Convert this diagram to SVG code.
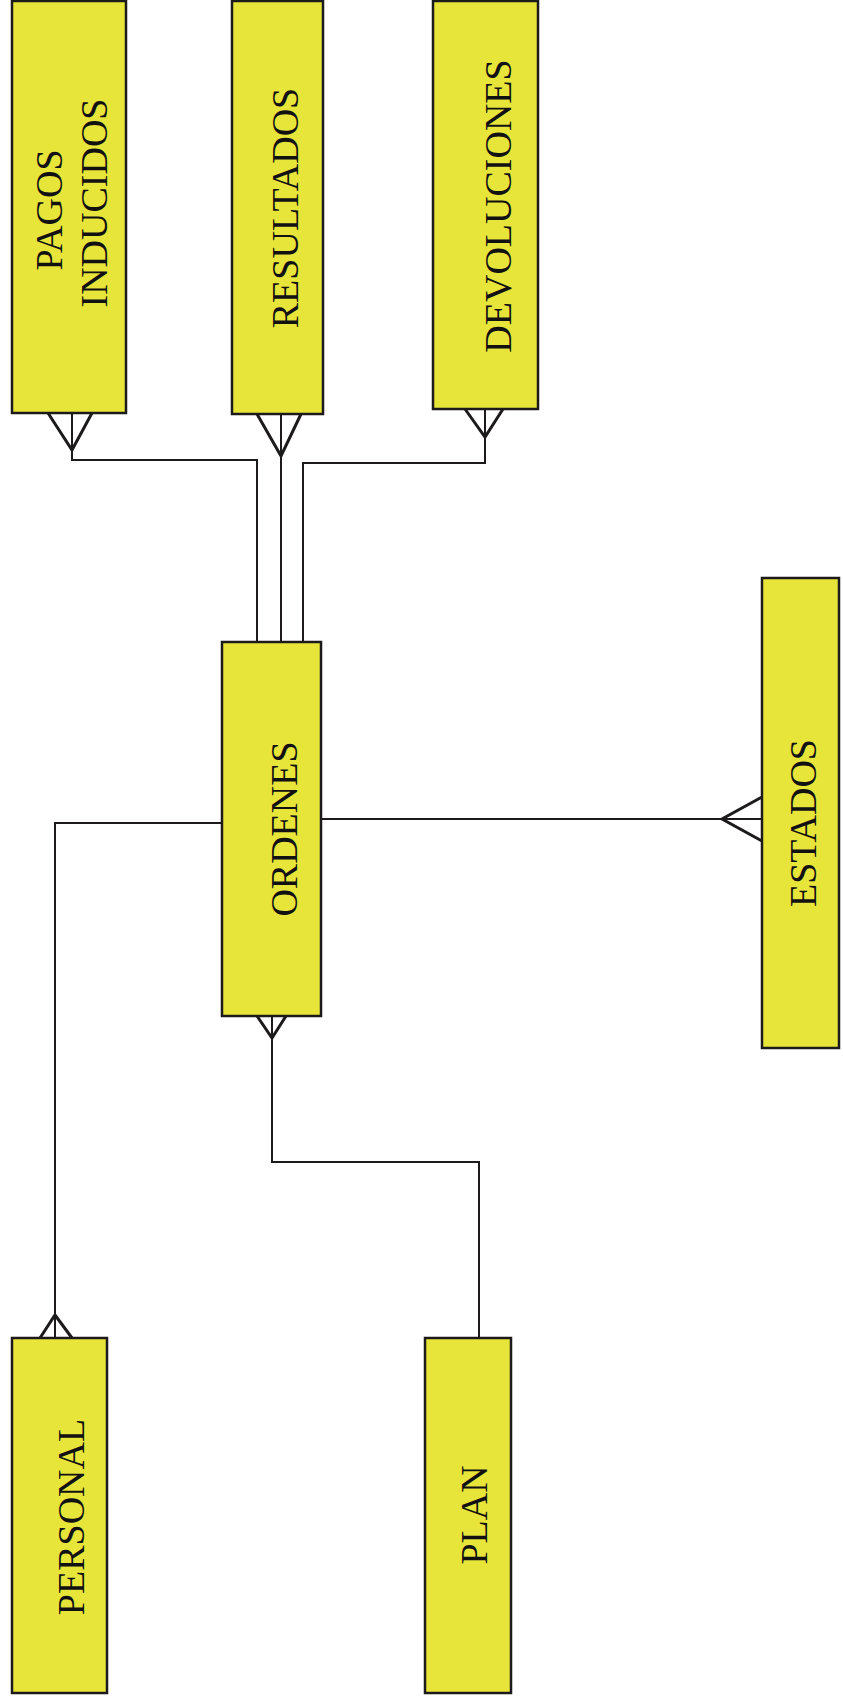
<svg xmlns="http://www.w3.org/2000/svg" width="843" height="1704" viewBox="0 0 843 1704">
  <style>
    .entity rect { fill: #e8e53a; stroke: #1c1a1a; stroke-width: 2.5; }
    .entity text { font-family: "Liberation Serif", "Times New Roman", serif; font-size: 38px; fill: #111; text-anchor: middle; }
    .link { fill: none; stroke: #1c1a1a; stroke-width: 2; }
    .crow { fill: none; stroke: #1c1a1a; stroke-width: 3; stroke-linejoin: miter; }
  </style>
  <rect width="843" height="1704" fill="#ffffff"/>

  <!-- relationships -->
  <g id="connectors">
    <!-- PAGOS INDUCIDOS - ORDENES -->
    <path class="crow" d="M48,413 L72,450 L92,413"/>
    <path class="link" d="M72,413 V460 H257 V642"/>
    <!-- RESULTADOS - ORDENES -->
    <path class="crow" d="M257,414 L281,456 L301,414"/>
    <path class="link" d="M281,414 V642"/>
    <!-- DEVOLUCIONES - ORDENES -->
    <path class="crow" d="M465,409 L485,437 L503,409"/>
    <path class="link" d="M485,409 V463 H303 V642"/>
    <!-- ORDENES - ESTADOS -->
    <path class="link" d="M322,819 H762"/>
    <path class="crow" d="M762,797 L722,819 L762,841"/>
    <!-- PLAN - ORDENES -->
    <path class="crow" d="M257,1016 L272,1038 L286,1016"/>
    <path class="link" d="M272,1016 V1162 H479 V1338"/>
    <!-- ORDENES - PERSONAL -->
    <path class="link" d="M222,823 H55 V1338"/>
    <path class="crow" d="M40,1338 L55,1315 L72,1338"/>
  </g>

  <g id="pagos-inducidos" class="entity">
    <rect x="12" y="1" width="114" height="412"/>
    <text transform="translate(62,210) rotate(-90)">PAGOS</text>
    <text transform="translate(107,203) rotate(-90)">INDUCIDOS</text>
  </g>

  <g id="resultados" class="entity">
    <rect x="232" y="1" width="91" height="413"/>
    <text transform="translate(298,208) rotate(-90)">RESULTADOS</text>
  </g>

  <g id="devoluciones" class="entity">
    <rect x="433" y="1" width="105" height="408"/>
    <text transform="translate(511,206) rotate(-90)">DEVOLUCIONES</text>
  </g>

  <g id="ordenes" class="entity">
    <rect x="222" y="642" width="99" height="374"/>
    <text transform="translate(297,829) rotate(-90)">ORDENES</text>
  </g>

  <g id="estados" class="entity">
    <rect x="762" y="578" width="77" height="470"/>
    <text transform="translate(816,823) rotate(-90)">ESTADOS</text>
  </g>

  <g id="personal" class="entity">
    <rect x="12" y="1338" width="95" height="355"/>
    <text transform="translate(84,1517) rotate(-90)">PERSONAL</text>
  </g>

  <g id="plan" class="entity">
    <rect x="425" y="1338" width="86" height="355"/>
    <text transform="translate(487,1515) rotate(-90)">PLAN</text>
  </g>
</svg>
